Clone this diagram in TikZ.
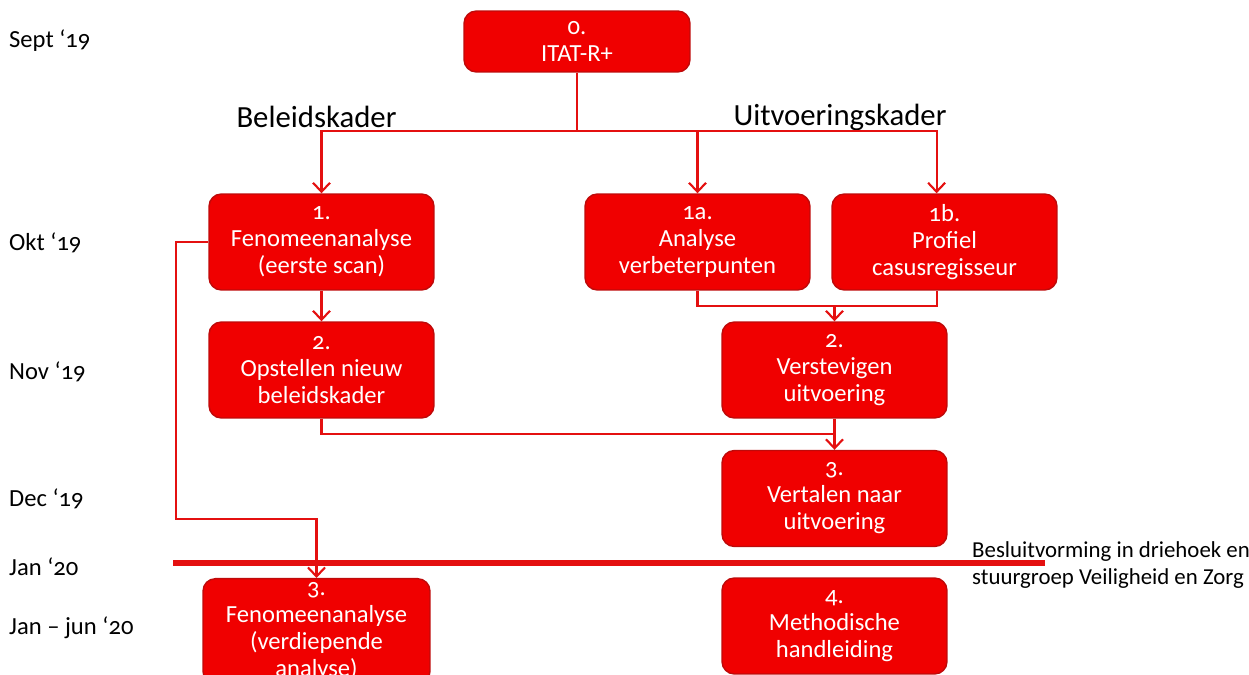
\documentclass[tikz,border=0pt]{standalone}
\usepackage{fontspec}
\setmainfont{Carlito}[Numbers=OldStyle]
\usetikzlibrary{arrows.meta}
\definecolor{boxred}{RGB}{240,0,0}
\definecolor{rimred}{RGB}{190,10,10}
\definecolor{linered}{RGB}{228,16,16}
\begin{document}
\begin{tikzpicture}[x=0.02cm,y=-0.02cm]
\tikzstyle{stap} = [draw=rimred,line width=0.8pt,fill=boxred,rounded corners=7pt,text=white,align=center,minimum width=4.5cm,minimum height=1.92cm,font=\fontsize{14}{15.4}\selectfont,inner sep=2pt];
\tikzstyle{maand} = [anchor=west,font=\fontsize{14}{16}\selectfont];
\tikzstyle{kop} = [font=\fontsize{17.5}{20}\selectfont];
\tikzstyle{lijn} = [linered,line width=1.2pt];
\tikzstyle{pijl} = [lijn,-{Straight Barb[length=1.8mm,width=3.4mm]}];

\clip (0,0) rectangle (1249,675);

% maanden
\node[maand] (sep) at (3,41) {Sept ‘19};
\node[maand] (okt) at (3,243) {Okt ‘19};
\node[maand] (nov) at (3,372) {Nov ‘19};
\node[maand] (dec) at (3,499) {Dec ‘19};
\node[maand] (jan) at (3,567) {Jan ‘20};
\node[maand] (jun) at (3,628) {Jan – jun ‘20};

% stappen
\node[stap,minimum height=1.22cm,minimum width=4.52cm] (s0) at (577,41.5) {0.\\ITAT-R+};
\node[stap] (s1) at (321.5,242) {1.\\Fenomeenanalyse\\(eerste scan)};
\node[stap] (s1a) at (697.5,242) {1a.\\Analyse\\verbeterpunten};
\node[stap] (s1b) at (944.5,242) {1b.\\Profiel\\casusregisseur};
\node[stap] (s2l) at (321.5,370) {2.\\Opstellen nieuw\\beleidskader};
\node[stap] (s2r) at (834.5,370) {2.\\Verstevigen\\uitvoering};
\node[stap] (s3r) at (834.5,498.5) {3.\\Vertalen naar\\uitvoering};
\node[stap,minimum width=4.54cm,minimum height=2.1cm,anchor=north,inner sep=0pt] (s3l) at (316.5,578) {3.\\Fenomeenanalyse\\(verdiepende\\analyse)};
\node[stap] (s4) at (834.5,626) {4.\\Methodische\\handleiding};

\node[kop] (bel) at (316.5,117) {Beleidskader};
\node[kop] (uit) at (840,117) {Uitvoeringskader};

% verbindingen
\coordinate (split) at (577,131);
\coordinate (samen) at (834.5,306);
\coordinate (naar3) at (834.5,434);
\coordinate (lus) at (176,519);
\draw[lijn] (s0.south) -- (split);
\draw[pijl] (split) -| (s1.north);
\draw[pijl] (split) -| (s1a.north);
\draw[pijl] (split) -| ([xshift=-4.5]s1b.north);
\draw[pijl] (s1) -- (s2l);
\draw[lijn] (s1a.south) |- (samen) -| ([xshift=-4.5]s1b.south);
\draw[pijl] (samen) -- (s2r.north);
\draw[lijn] (s2l.south) |- (naar3);
\draw[pijl] (s2r) -- (s3r);

% besluitvorming
\coordinate (grensL) at (173,563);
\coordinate (grensR) at (1045,563);
\draw[linered,line width=3pt] (grensL) -- (grensR);
\node[anchor=west,align=left,font=\fontsize{13}{15.5}\selectfont] (besluit) at (966,565) {Besluitvorming in driehoek en\\stuurgroep Veiligheid en Zorg};

\draw[pijl] (s1.west) -| (lus) -| (s3l.north);

\end{tikzpicture}
\end{document}
